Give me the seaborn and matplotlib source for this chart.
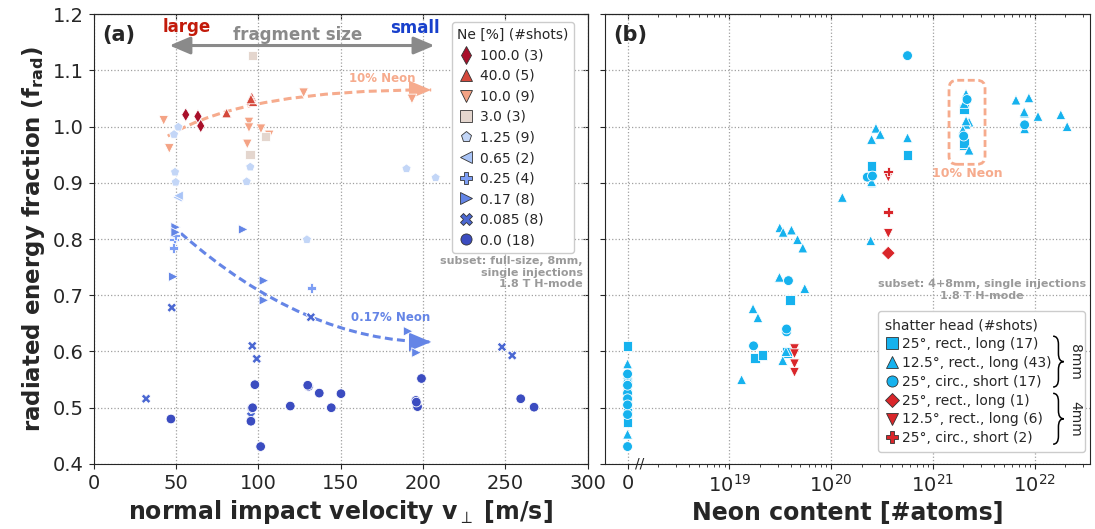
import numpy as np
import pandas as pd
import matplotlib.pyplot as plt
import seaborn as sns
from matplotlib.path import Path
from matplotlib.patches import PathPatch, FancyBboxPatch
from matplotlib.lines import Line2D
from matplotlib.transforms import ScaledTranslation

sns.set_style("ticks")
plt.rcParams['font.family'] = ['DejaVu Sans']

# ---------------- panel (a): f_rad vs normal impact velocity ----------------
ne_levels = ["100.0", "40.0", "10.0", "3.0", "1.25", "0.65", "0.25", "0.17", "0.085", "0.0"]
ne_shots = [3, 5, 9, 3, 9, 2, 4, 8, 8, 18]

v_ne100 = [55.9, 63.3, 65.0]
f_ne100 = [1.021, 1.018, 1.001]
v_ne40 = [95.3, 80.7, 96.0, 96.8, 95.5]
f_ne40 = [1.047, 1.024, 1.053, 1.044, 1.049]
v_ne10 = [127.5, 193.3, 42.5, 94.3, 94.3, 101.6, 106.6, 45.9, 93.3]
f_ne10 = [1.060, 1.049, 1.011, 1.008, 0.998, 0.996, 0.985, 0.961, 0.969]
v_ne3 = [96.5, 104.4, 95.1]
f_ne3 = [1.126, 0.982, 0.950]
v_ne125 = [51.4, 48.8, 49.4, 49.8, 95.1, 92.9, 190.0, 207.7, 129.5]
f_ne125 = [0.999, 0.986, 0.919, 0.901, 0.928, 0.902, 0.925, 0.909, 0.799]
v_ne065 = [50.8, 51.5]
f_ne065 = [0.874, 0.877]
v_ne025 = [48.9, 48.4, 132.4, 49.5]
f_ne025 = [0.799, 0.784, 0.713, 0.806]
v_ne017 = [49.8, 49.8, 48.4, 90.8, 103.4, 103.4, 191.0, 196.1]
f_ne017 = [0.821, 0.812, 0.733, 0.817, 0.726, 0.691, 0.636, 0.598]
v_ne0085 = [131.9, 47.4, 96.3, 99.0, 31.8, 248.0, 254.2, 95.5]
f_ne0085 = [0.661, 0.678, 0.610, 0.587, 0.516, 0.608, 0.593, 0.485]
v_ne0 = [97.9, 130.5, 137.0, 150.2, 119.4, 144.3, 96.1, 46.9, 95.5, 101.4,
         199.1, 195.7, 196.7, 259.4, 267.5, 96.5, 196.0, 130.0]
f_ne0 = [0.541, 0.538, 0.526, 0.525, 0.503, 0.500, 0.499, 0.480, 0.476, 0.431,
         0.552, 0.513, 0.502, 0.516, 0.501, 0.500, 0.510, 0.540]

v_all = [v_ne100, v_ne40, v_ne10, v_ne3, v_ne125, v_ne065, v_ne025, v_ne017, v_ne0085, v_ne0]
f_all = [f_ne100, f_ne40, f_ne10, f_ne3, f_ne125, f_ne065, f_ne025, f_ne017, f_ne0085, f_ne0]

# ---------------- panel (b): f_rad vs neon content ----------------
head_labels = ["25°, rect., long (17)", "12.5°, rect., long (43)", "25°, circ., short (17)",
               "25°, rect., long (1)", "12.5°, rect., long (6)", "25°, circ., short (2)"]

n_sq8 = [0, 0, 0, 0, 0, 0, 1.78e19, 2.12e19, 3.67e19, 3.93e19, 2.50e20, 5.64e20,
         2.03e21, 2.01e21, 2.50e20, 3.67e19, 2.01e21]
f_sq8 = [0.610, 0.501, 0.475, 0.490, 0.520, 0.546, 0.588, 0.594, 0.598, 0.691, 0.926, 0.950,
         1.031, 0.967, 0.930, 0.600, 0.970]
n_tri8 = [2.12e21, 2.03e21, 2.27e21, 2.12e21, 1.97e21, 2.27e21, 6.56e21, 8.79e21, 7.98e21,
          1.08e22, 1.81e22, 2.09e22, 7.98e21, 2.76e20, 3.04e20, 2.50e20, 5.64e20, 2.52e20,
          1.29e20, 3.13e19, 3.38e19, 4.08e19, 4.68e19, 5.27e19, 2.45e20, 3.11e19, 5.51e19,
          1.71e19, 1.91e19, 3.35e19, 1.32e19, 0, 0, 0, 0, 0, 0, 0, 0, 2.50e20, 2.12e21,
          3.60e19, 7.90e21]
f_tri8 = [1.058, 1.041, 1.008, 1.004, 0.994, 0.958, 1.047, 1.051, 1.024,
          1.018, 1.021, 1.000, 0.996, 0.997, 0.986, 0.977, 0.980, 0.900,
          0.874, 0.820, 0.812, 0.816, 0.799, 0.784, 0.797, 0.732, 0.712,
          0.676, 0.660, 0.584, 0.550, 0.578, 0.554, 0.547, 0.539, 0.526, 0.453, 0.560, 0.530,
          0.902, 1.010, 0.600, 1.026]
n_circ8 = [5.64e20, 2.17e21, 2.01e21, 7.98e21, 2.27e20, 2.55e20, 3.81e19, 3.65e19, 1.73e19,
           0, 0, 0, 0, 0, 0, 0, 3.65e19]
f_circ8 = [1.126, 1.048, 0.983, 1.003, 0.910, 0.912, 0.726, 0.635, 0.610,
           0.526, 0.516, 0.488, 0.431, 0.540, 0.560, 0.505, 0.640]
n_dia4 = [3.65e20]
f_dia4 = [0.775]
n_tri4 = [3.65e20, 3.65e20, 4.37e19, 4.37e19, 4.37e19, 4.37e19]
f_tri4 = [0.910, 0.810, 0.605, 0.596, 0.578, 0.563]
n_circ4 = [3.65e20, 3.65e20]
f_circ4 = [0.920, 0.848]

n_all = [n_sq8, n_tri8, n_circ8, n_dia4, n_tri4, n_circ4]
fb_all = [f_sq8, f_tri8, f_circ8, f_dia4, f_tri4, f_circ4]

# ---------------- styles ----------------
ne_colors = ["#a8102a", "#d4483b", "#f4a385", "#e4d6ce", "#c3d6f7",
             "#a9c4f7", "#7d9ef4", "#6385e6", "#4b68d2", "#3b4cc0"]
ne_markers = ["d", "^", "v", "s", "p", "<", "P", ">", "X", "o"]
blue8, red4 = "#16b2ee", "#d9262a"
head_colors = [blue8, blue8, blue8, red4, red4, red4]
head_markers = ["s", "^", "o", "D", "v", "P"]
salmon = "#f6ab8d"
grey = "#9a9a9a"

df_a = pd.concat([pd.DataFrame({"v": v, "frad": f, "ne": lvl})
                  for v, f, lvl in zip(v_all, f_all, ne_levels)], ignore_index=True)
df_b = pd.concat([pd.DataFrame({"N": n, "frad": f, "head": h})
                  for n, f, h in zip(n_all, fb_all, head_labels)], ignore_index=True)
# zero neon is drawn on the broken-axis position at 1e18
df_b["N_plot"] = df_b["N"].where(df_b["N"] > 0, 1e18)

fig = plt.figure(figsize=(10.95, 5.29), dpi=100)
ax1 = fig.add_axes([0.0856, 0.1229, 0.4510, 0.8506])
ax2 = fig.add_axes([0.5525, 0.1229, 0.4429, 0.8506], sharey=ax1)

# ---- (a)
plot_order = ne_levels[::-1]
sns.scatterplot(data=df_a, x="v", y="frad", hue="ne", style="ne",
                hue_order=plot_order, style_order=plot_order,
                palette=dict(zip(ne_levels, ne_colors)),
                markers=dict(zip(ne_levels, ne_markers)),
                s=48, edgecolor="white", linewidth=0.6, legend=False, ax=ax1, zorder=3)

def dashed_arrow(ax, p0, p1, p2, back, color):
    path = Path([p0, p1, p2], [Path.MOVETO, Path.CURVE3, Path.CURVE3])
    ax.add_patch(PathPatch(path, fill=False, ec=color, lw=2.2,
                           ls=(0, (2.6, 1.4)), zorder=2))
    ax.annotate("", xy=p2, xytext=back,
                arrowprops=dict(arrowstyle="-|>,head_length=1.0,head_width=0.42",
                                color=color, lw=0, mutation_scale=16,
                                shrinkA=0, shrinkB=0), zorder=2)

dashed_arrow(ax1, (45, 0.983), (92, 1.066), (205, 1.065), (185, 1.065), salmon)
dashed_arrow(ax1, (53, 0.810), (128, 0.618), (205, 0.617), (185, 0.617), "#6585e6")
ax1.text(175.5, 1.085, "10% Neon", color=salmon, fontsize=8.5, fontweight="bold",
         ha="center", va="center")
ax1.text(180.6, 0.661, "0.17% Neon", color="#6585e6", fontsize=8.5, fontweight="bold",
         ha="center", va="center")

ax1.annotate("", xy=(46, 1.144), xytext=(207, 1.144), annotation_clip=False,
             arrowprops=dict(arrowstyle="<|-|>,head_length=0.9,head_width=0.38",
                             color="#8a8a8a", lw=2.2, mutation_scale=14,
                             shrinkA=0, shrinkB=0))
ax1.text(124, 1.163, "fragment size", color="#8a8a8a", fontsize=12, fontweight="bold",
         ha="center", va="center")
ax1.text(56.6, 1.177, "large", color="#c21a0a", fontsize=12, fontweight="bold",
         ha="center", va="center")
ax1.text(195, 1.175, "small", color="#1840cc", fontsize=12, fontweight="bold",
         ha="center", va="center")
ax1.text(0.018, 0.975, "(a)", transform=ax1.transAxes, fontsize=15, fontweight="bold",
         ha="left", va="top")
ax1.text(0.99, 0.462, "subset: full-size, 8mm,\nsingle injections\n1.8 T H-mode",
         transform=ax1.transAxes, color=grey, fontsize=8, fontweight="bold",
         ha="right", va="top", multialignment="right")

handles_a = [Line2D([], [], ls="", marker=m, markersize=8 if m != "d" else 9,
                    markerfacecolor=c, markeredgecolor="#333333", markeredgewidth=0.6)
             for m, c in zip(ne_markers, ne_colors)]
labels_a = [f"{lvl} ({n})" for lvl, n in zip(ne_levels, ne_shots)]
ax1.legend(handles_a, labels_a, title="Ne [%] (#shots)", loc="upper right",
           bbox_to_anchor=(0.987, 0.997), fontsize=10, title_fontsize=10,
           alignment="left", handletextpad=0.4, labelspacing=0.47, borderpad=0.4,
           handlelength=1.2, framealpha=1)

ax1.set_xlim(0, 300)
ax1.set_ylim(0.4, 1.2)
ax1.set_xticks(np.arange(0, 301, 50))
ax1.set_yticks(np.arange(0.4, 1.21, 0.1))
ax1.yaxis.set_major_formatter(plt.FormatStrFormatter("%.1f"))
ax1.set_xlabel(r"normal impact velocity v$_\perp$ [m/s]", fontsize=17, fontweight="bold")
ax1.set_ylabel(r"radiated energy fraction (f$_{\mathbf{rad}}$)", fontsize=16.5,
               fontweight="bold")
ax1.tick_params(labelsize=14, direction="out")
ax1.grid(True, ls=":", color="#a0a0a0", lw=0.9)
top1 = ax1.secondary_xaxis("top")
top1.tick_params(direction="in", labeltop=False, length=3.5)
right1 = ax1.secondary_yaxis("right")
right1.tick_params(direction="in", labelright=False, length=3.5)

# ---- (b)
sns.scatterplot(data=df_b, x="N_plot", y="frad", hue="head", style="head",
                hue_order=head_labels, style_order=head_labels,
                palette=dict(zip(head_labels, head_colors)),
                markers=dict(zip(head_labels, head_markers)),
                s=50, edgecolor="white", linewidth=0.6, legend=False, ax=ax2, zorder=3)
ax2.set_xscale("log")
ax2.set_xlim(6e17, 3.5e22)
major = [1e18, 1e19, 1e20, 1e21, 1e22]
minor = [k * 10.0 ** e for e in range(18, 23) for k in range(2, 10)
         if 1.5e18 < k * 10.0 ** e < 3.5e22]
ax2.set_xticks(major)
ax2.set_xticklabels(["0", r"$10^{19}$", r"$10^{20}$", r"$10^{21}$", r"$10^{22}$"])
ax2.set_xticks(minor, minor=True)
ax2.set_xticklabels([], minor=True)
ax2.tick_params(labelsize=14, direction="out", labelleft=False)
ax2.tick_params(axis="x", which="minor", length=2.5)
ax2.grid(True, which="major", ls=":", color="#a0a0a0", lw=0.9)
ax2.set_xlabel("Neon content [#atoms]", fontsize=17, fontweight="bold")
ax2.set_ylabel("")
top2 = ax2.secondary_xaxis("top")
top2.set_xticks(major)
top2.set_xticks(minor, minor=True)
top2.tick_params(which="both", direction="in", labeltop=False, length=3.5)
top2.tick_params(which="minor", length=2.5)
ax2.text(0.072, 0.0, "//", transform=ax2.transAxes, fontsize=10, ha="center",
         va="center", clip_on=False)
ax2.text(0.018, 0.975, "(b)", transform=ax2.transAxes, fontsize=15, fontweight="bold",
         ha="left", va="top")
ax2.text(0.777, 0.411, "subset: 4+8mm, single injections\n1.8 T H-mode",
         transform=ax2.transAxes, color=grey, fontsize=8, fontweight="bold",
         ha="center", va="top", multialignment="center")

# dashed rounded box around 10 % neon shots
box_tr = fig.dpi_scale_trans + ScaledTranslation(10 ** 21.336, 1.0075, ax2.transData)
ax2.add_patch(FancyBboxPatch((-0.18, -0.42), 0.36, 0.84,
                             boxstyle="round,pad=0,rounding_size=0.08",
                             transform=box_tr, fill=False, ec=salmon, lw=2,
                             ls=(0, (2.5, 1.3)), zorder=2))
ax2.text(10 ** 21.336, 0.916, "10% Neon", color=salmon, fontsize=9, fontweight="bold",
         ha="center", va="center")

handles_b = [Line2D([], [], ls="", marker=m, markersize=8 if m != "D" else 7.5,
                    markerfacecolor=c, markeredgecolor="#333333", markeredgewidth=0.6)
             for m, c in zip(head_markers, head_colors)]
# empty second column keeps room for the size braces inside the frame
blank = [Line2D([], [], ls="") for _ in head_labels]
ax2.legend(handles_b + blank, head_labels + [""] * len(blank),
           title="shatter head (#shots)", ncols=2, loc="lower right",
           bbox_to_anchor=(0.995, 0.02), fontsize=10, title_fontsize=10,
           alignment="left", handletextpad=0.3, labelspacing=0.35, borderpad=0.5,
           handlelength=0.9, columnspacing=0.7, framealpha=1, borderaxespad=0.2)
ax2.legend_.set_zorder(5)

def brace(ax, x, y0, y1, w, h):
    ym = 0.5 * (y0 + y1)
    xm = x + 0.5 * w
    verts = [(x, y1), (xm, y1), (xm, y1 - h), (xm, ym + h), (xm, ym), (x + w, ym),
             (xm, ym), (xm, ym - h), (xm, y0 + h), (xm, y0), (x, y0)]
    codes = [Path.MOVETO, Path.CURVE3, Path.CURVE3, Path.LINETO, Path.CURVE3, Path.CURVE3,
             Path.CURVE3, Path.CURVE3, Path.LINETO, Path.CURVE3, Path.CURVE3]
    ax.add_patch(PathPatch(Path(verts, codes), fill=False, lw=1.1, ec="black",
                           transform=ax.transAxes, clip_on=False, zorder=6))

brace(ax2, 0.924, 0.171, 0.284, 0.022, 0.018)
brace(ax2, 0.924, 0.044, 0.157, 0.022, 0.018)
ax2.text(0.970, 0.227, "8mm", transform=ax2.transAxes, rotation=-90, fontsize=10,
         ha="center", va="center", zorder=6)
ax2.text(0.970, 0.100, "4mm", transform=ax2.transAxes, rotation=-90, fontsize=10,
         ha="center", va="center", zorder=6)

plt.savefig("out.png", dpi=100)
plt.close()
